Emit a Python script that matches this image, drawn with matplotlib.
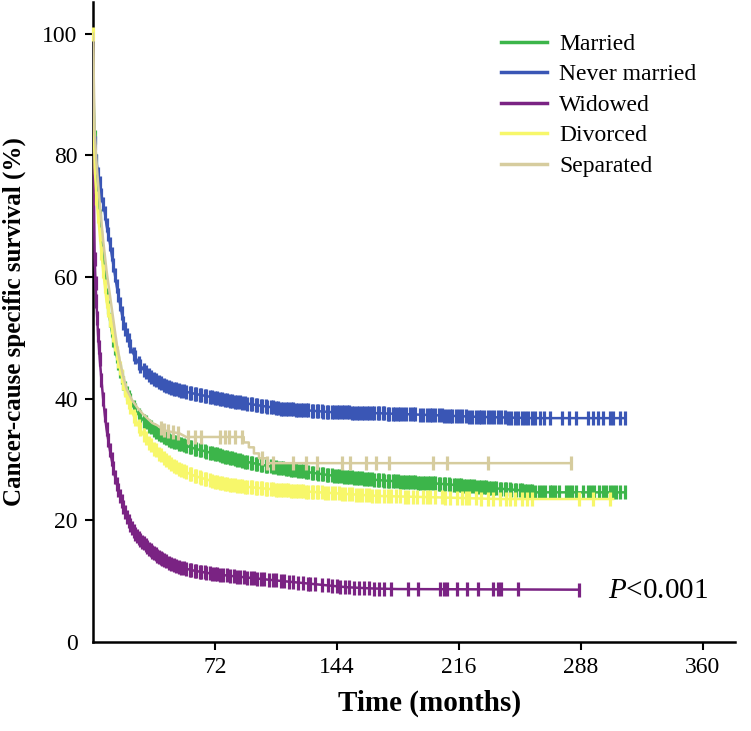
import numpy as np
import matplotlib
matplotlib.use("Agg")
import matplotlib.pyplot as plt
from matplotlib.lines import Line2D

plt.rcParams['font.family'] = ['Liberation Serif', 'DejaVu Serif']
plt.rcParams['mathtext.fontset'] = 'custom'
plt.rcParams['mathtext.rm'] = 'Liberation Serif'
plt.rcParams['mathtext.it'] = 'Liberation Serif:italic'

# ---------------- data ----------------
groups = ["Married", "Never married", "Widowed", "Divorced", "Separated"]
colors = ["#3cb54a", "#3a56b5", "#7a2383", "#f7f76a", "#d6cc9e"]

married_t = [0, 0.5, 1, 2, 3, 4, 5, 6, 7, 8, 9, 10, 11, 12, 14, 16, 18, 20, 22, 24, 26, 28, 32, 36, 41, 46, 51,
             60, 71, 80, 91, 100, 110, 125, 140, 155, 169, 185, 200, 215, 228, 240, 250, 258, 262, 314]
married_s = [100, 88, 83, 79, 74, 70, 66.5, 63, 60, 57, 55, 53, 51.3, 49.7, 47, 44.6, 42.6, 41, 39.7, 38.6, 37.7,
             37, 35.8, 34.8, 33.8, 33.1, 32.6, 31.8, 31, 30.3, 29.6, 29.1, 28.6, 28, 27.4, 27, 26.6, 26.3, 26.1,
             25.8, 25.5, 25.2, 25.0, 24.8, 24.6, 24.6]

never_t = [0, 0.5, 1, 2, 3, 4, 5, 6, 7, 8, 10, 12, 14, 16, 18, 20, 22, 24, 27, 30, 34, 38, 44, 51, 60, 71, 80,
           91, 100, 110, 125, 140, 169, 200, 228, 260, 314]
never_s = [100, 86, 82, 79, 77, 75.5, 73.5, 72, 70.5, 68.5, 65.5, 62, 58.5, 55.5, 52.5, 50.5, 48.7, 47.3, 45.8,
           44.7, 43.6, 42.8, 42, 41.4, 40.8, 40.2, 39.7, 39.2, 38.8, 38.4, 38.1, 37.8, 37.6, 37.3, 37.0, 36.8, 36.8]

widowed_t = [0, 0.3, 0.6, 1, 1.5, 2, 3, 4, 5, 6, 7, 8, 9, 10, 11, 12, 13, 14, 16, 18, 20, 22, 25, 28, 32, 36,
             40, 45, 51, 60, 71, 80, 91, 105, 120, 135, 150, 165, 180, 287]
widowed_s = [100, 86, 72, 63, 59, 56, 50.5, 46.5, 43, 40, 37.3, 35, 33.2, 31.5, 30, 28.6, 27.2, 26, 24, 22.2,
             20.6, 19.3, 17.8, 16.8, 15.6, 14.6, 13.8, 13, 12.3, 11.7, 11.2, 10.9, 10.6, 10.2, 9.8, 9.4, 9.0, 8.8,
             8.7, 8.6]

divorced_t = [0, 0.5, 1, 2, 3, 4, 5, 6, 7, 8, 9, 10, 12, 14, 16, 18, 20, 22, 24, 26, 29, 32, 36, 41, 46, 51, 60,
              71, 80, 91, 110, 140, 169, 200, 240, 307]
divorced_s = [100, 84, 78, 73, 70, 67, 64, 61, 58.5, 56, 54.5, 53, 50.5, 47.5, 45, 42.5, 40.3, 38.6, 37.2, 36,
              34.4, 33.1, 31.8, 30.4, 29.3, 28.4, 27.3, 26.4, 25.9, 25.5, 25.0, 24.5, 24.0, 23.8, 23.5, 23.5]

separated_t = [0, 1, 2, 4, 6, 8, 10, 12, 14, 16, 18, 20, 23, 26, 29, 32, 35, 38, 42, 45, 51, 55, 89, 89, 92, 92,
               95, 95, 98, 98, 103, 103, 282]
separated_s = [100, 84, 79, 72, 66, 61, 57, 53, 49, 46, 43.5, 41.5, 39.8, 38.6, 37.6, 36.8, 36, 35.6, 34.8, 34.6,
               34.3, 33.7, 33.7, 32.8, 32.8, 32, 32, 31, 31, 30.2, 30.2, 29.4, 29.4]

# censoring times (months)
married_c = [1, 2, 3, 4, 5, 6, 7, 8, 9, 10, 11, 12, 13, 14, 15, 16, 17, 18, 19, 20, 21, 22, 24, 25, 27, 28, 30,
             31, 33, 34, 36, 37, 39, 40, 42, 43, 45, 46, 48, 49, 51, 52, 54, 55, 57, 58, 60, 61, 63, 64, 66, 67,
             69, 70, 72, 73, 75, 76, 78, 79, 81, 82, 84, 85, 87, 88, 90, 91, 93, 94, 96, 97, 99, 100, 102, 103,
             105, 106, 108, 109, 111, 112, 114, 115, 117, 118, 120, 121, 123, 124, 126, 127, 129, 130, 132, 133,
             135, 136, 138, 139, 141, 142, 144, 145, 147, 148, 150, 151, 153, 154, 156, 157, 159, 160, 162, 163,
             165, 166, 168, 169, 171, 172, 174, 175, 177, 178, 180, 181, 183, 184, 186, 187, 189, 190, 192, 193,
             195, 196, 198, 199, 201, 202, 204, 205, 207, 208, 210, 211, 213, 214, 216, 217, 219, 220, 222, 223,
             225, 226, 228, 229, 231, 232, 234, 235, 237, 238, 240, 241, 243, 244, 246, 247, 249, 250, 252, 253,
             255, 256, 258, 259, 261, 263, 265, 267, 270, 271, 273, 275, 279, 281, 283, 285, 289, 292, 294, 296,
             299, 301, 303, 305, 307, 309, 311, 314]
never_c = [1, 2, 3, 4, 5, 6, 7, 8, 9, 10, 11, 12, 13, 14, 15, 16, 17, 18, 19, 20, 21, 22, 24, 25, 27, 28, 30,
           31, 33, 34, 36, 37, 39, 40, 42, 43, 45, 46, 48, 49, 51, 52, 54, 55, 57, 58, 60, 61, 63, 64, 66, 67,
           69, 70, 72, 73, 75, 76, 78, 79, 81, 82, 84, 85, 87, 88, 90, 91, 93, 94, 96, 97, 99, 100, 102, 103,
           105, 106, 108, 109, 111, 112, 114, 115, 117, 118, 120, 121, 123, 124, 126, 127, 129, 130, 132, 133,
           135, 136, 138, 139, 141, 142, 144, 145, 147, 148, 150, 151, 153, 154, 156, 157, 159, 160, 162, 163,
           165, 166, 168, 169, 171, 172, 174, 175, 177, 178, 180, 181, 183, 185, 187, 189, 190, 193, 195, 197,
           199, 200, 202, 204, 206, 207, 209, 211, 212, 214, 216, 218, 220, 222, 224, 226, 228, 229, 231, 233,
           235, 237, 239, 241, 243, 245, 247, 249, 251, 253, 255, 257, 259, 261, 264, 266, 270, 277, 281, 285,
           292, 295, 298, 301, 305, 307, 311, 314]
widowed_c = [0.5, 1, 1.5, 2, 2.5, 3, 3.5, 4, 5, 6, 7, 8, 9, 10, 11, 12, 13, 14, 15, 16, 17, 18, 19, 20, 21, 22,
             23, 24, 25, 26, 27, 28, 29, 30, 31, 32, 33, 34, 35, 36, 37, 38, 39, 40, 41, 42, 43, 45, 46, 48, 49,
             51, 52, 54, 55, 57, 58, 60, 61, 63, 64, 66, 67, 69, 70, 72, 73, 75, 77, 79, 81, 83, 85, 87, 89, 91,
             93, 95, 97, 99, 101, 104, 106, 108, 111, 113, 116, 118, 121, 124, 127, 128, 131, 135, 139, 141,
             144, 146, 149, 151, 154, 157, 160, 163, 166, 169, 172, 176, 186, 192, 205, 207, 209, 215, 221, 227,
             236, 239, 241, 251, 287]
divorced_c = [0, 1, 2, 3, 4, 5, 6, 7, 8, 9, 10, 11, 12, 13, 14, 15, 16, 17, 18, 19, 20, 21, 22, 24, 25, 27, 28,
              30, 31, 33, 34, 36, 37, 39, 40, 42, 43, 45, 46, 48, 49, 51, 52, 54, 55, 57, 58, 60, 61, 63, 64, 66,
              67, 69, 70, 72, 73, 75, 76, 78, 79, 81, 82, 84, 85, 87, 88, 90, 91, 93, 94, 96, 97, 99, 100, 102,
              103, 105, 106, 108, 109, 111, 112, 114, 115, 117, 118, 120, 121, 123, 124, 126, 127, 129, 130, 132,
              133, 135, 137, 139, 141, 143, 145, 147, 149, 151, 153, 155, 157, 159, 161, 163, 165, 167, 169, 172,
              174, 176, 179, 181, 184, 186, 189, 191, 195, 197, 199, 202, 206, 208, 211, 215, 218, 220, 222, 226,
              229, 233, 236, 240, 244, 246, 249, 253, 256, 259, 287, 295, 305]
separated_c = [40, 42, 44, 47, 50, 56, 60, 64, 75, 78, 80, 84, 88, 100, 103, 106, 118, 126, 132, 147, 152, 161,
               167, 175, 201, 209, 233, 282]

curves_t = [married_t, never_t, widowed_t, divorced_t, separated_t]
curves_s = [married_s, never_s, widowed_s, divorced_s, separated_s]
censors = [married_c, never_c, widowed_c, divorced_c, separated_c]

x_ticks = [72, 144, 216, 288, 360]
y_ticks = [0, 20, 40, 60, 80, 100]

# ---------------- figure ----------------
fig = plt.figure(figsize=(7.51, 7.31), dpi=100)
ax = fig.add_axes([93 / 751, 89 / 731, (735 - 93) / 751, 640 / 731])

draw_order = [4, 3, 0, 1, 2]
for i in draw_order:
    t = np.array(curves_t[i], float)
    s = np.array(curves_s[i], float)
    c = np.array(censors[i], float)
    ax.plot(t, s, color=colors[i], lw=1.8, zorder=2 + i)
    ax.plot(c, np.interp(c, t, s), ls='none', marker='|', ms=10, mew=2.3, color=colors[i],
            zorder=2 + i, clip_on=False)

ax.set_xlim(0, 379)
ax.set_ylim(0, 105.2)
ax.set_xticks(x_ticks)
ax.set_yticks(y_ticks)
ax.set_xticklabels([str(v) for v in x_ticks])
ax.set_yticklabels([str(v) for v in y_ticks])
ax.tick_params(axis='both', direction='out', length=6, width=1.5, labelsize=17, pad=5)
ax.yaxis.get_major_ticks()[0].tick1line.set_visible(False)

for side in ['top', 'right']:
    ax.spines[side].set_visible(False)
for side in ['left', 'bottom']:
    ax.spines[side].set_linewidth(1.8)

ax.set_xlabel("Time (months)", fontsize=21, fontweight='bold', labelpad=16)
ax.xaxis.set_label_coords(0.525, -0.075)
ax.set_ylabel("Cancer-cause specific survival (%)", fontsize=18, fontweight='bold', labelpad=12)

ax.text(304, 8.4, r"$P$<0.001", fontsize=21, va='center', ha='left')

handles = [Line2D([0], [0], color=colors[i], lw=2.5) for i in range(5)]
leg = ax.legend(handles, groups, loc='upper left', bbox_to_anchor=(492 / 751, 1 - 24 / 731),
                bbox_transform=fig.transFigure, frameon=False, fontsize=17,
                handlelength=1.95, handletextpad=0.5, labelspacing=0.38, borderaxespad=0)

fig.savefig("out.png", dpi=100)
